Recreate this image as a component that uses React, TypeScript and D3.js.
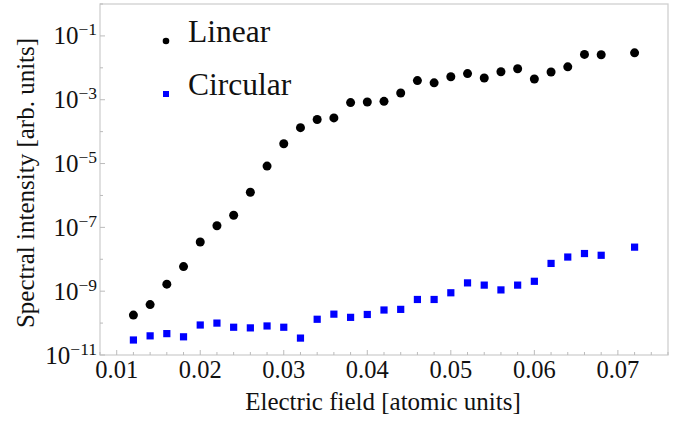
import React from "react";
import * as d3 from "d3";

const fields = [0.012, 0.014, 0.016, 0.018, 0.02, 0.022, 0.024, 0.026, 0.028, 0.03, 0.032, 0.034, 0.036, 0.038, 0.04, 0.042, 0.044, 0.046, 0.048, 0.05, 0.052, 0.054, 0.056, 0.058, 0.06, 0.062, 0.064, 0.066, 0.068, 0.072];
const linearLog = [-9.75, -9.42, -8.78, -8.23, -7.46, -6.95, -6.62, -5.9, -5.08, -4.38, -3.875, -3.62, -3.57, -3.09, -3.07, -3.05, -2.79, -2.4, -2.47, -2.28, -2.18, -2.32, -2.125, -2.03, -2.35, -2.13, -1.97, -1.58, -1.59, -1.53];
const circularLog = [-10.53, -10.4, -10.33, -10.43, -10.06, -10.0, -10.13, -10.15, -10.09, -10.13, -10.47, -9.88, -9.72, -9.82, -9.73, -9.59, -9.57, -9.26, -9.26, -9.05, -8.74, -8.81, -8.96, -8.81, -8.69, -8.13, -7.93, -7.82, -7.875, -7.62];
const xMajorTicks = [0.01, 0.02, 0.03, 0.04, 0.05, 0.06, 0.07];
const yMajorExps = [-11, -9, -7, -5, -3, -1];
const seriesNames = ["Linear", "Circular"];
const xTitle = "Electric field [atomic units]";
const yTitle = "Spectral intensity [arb. units]";

const W = 677, H = 422;
const left = 100, right = 668, top = 4, bottom = 355;
const FONT = "'Liberation Serif', 'Times New Roman', serif";

export default function App() {
  const x = d3.scaleLinear().domain([0.008, 0.076]).range([left, right]);
  const y = d3.scaleLog().domain([1e-11, 1]).range([bottom, top]);
  const xMinor = d3.range(0, 35).map((i) => 0.008 + i * 0.002).filter((v) => v <= 0.0761 && !xMajorTicks.some((m) => Math.abs(m - v) < 1e-9));
  const yMinorExps = d3.range(-10, 1, 2);
  const linear = fields.map((f, i) => ({ f, v: Math.pow(10, linearLog[i]) }));
  const circular = fields.map((f, i) => ({ f, v: Math.pow(10, circularLog[i]) }));
  const tickColor = "#bbbbbb";
  return (
    <svg width={W} height={H} style={{ position: "absolute", left: 0, top: 0, background: "#fff" }} fontFamily={FONT}>
      <rect x={left} y={top} width={right - left} height={bottom - top} fill="none" stroke="#d0d0d0" strokeWidth={1.3} />
      {xMajorTicks.map((t) => (
        <g key={"xt" + t}>
          <line x1={x(t)} x2={x(t)} y1={bottom} y2={bottom - 5} stroke={tickColor} />
          <text x={x(t)} y={378} fontSize={24.5} textAnchor="middle" fill="#111">{t.toFixed(2)}</text>
        </g>
      ))}
      {xMinor.map((t) => (
        <line key={"xm" + t} x1={x(t)} x2={x(t)} y1={bottom} y2={bottom - 3} stroke={tickColor} />
      ))}
      {yMajorExps.map((e) => (
        <g key={"yt" + e}>
          <line x1={left} x2={left + 5} y1={y(Math.pow(10, e))} y2={y(Math.pow(10, e))} stroke={tickColor} />
          <text x={97} y={y(Math.pow(10, e)) + 8.5} fontSize={25} textAnchor="end" fill="#111">
            10<tspan fontSize={17.5} dy={-9}>{"\u2212" + Math.abs(e)}</tspan>
          </text>
        </g>
      ))}
      {yMinorExps.map((e) => (
        <line key={"ym" + e} x1={left} x2={left + 3} y1={y(Math.pow(10, e))} y2={y(Math.pow(10, e))} stroke={tickColor} />
      ))}
      {linear.map((d, i) => (
        <circle key={"l" + i} cx={x(d.f)} cy={y(d.v)} r={4.5} fill="#000" />
      ))}
      {circular.map((d, i) => (
        <rect key={"c" + i} x={x(d.f) - 3.6} y={y(d.v) - 3.6} width={7.2} height={7.2} fill="#0000ff" />
      ))}
      <circle cx={166} cy={41} r={3.3} fill="#000" />
      <text x={188} y={42} fontSize={31.5} fill="#111">{seriesNames[0]}</text>
      <rect x={163} y={91} width={6} height={6} fill="#0000ff" />
      <text x={188} y={95} fontSize={31.5} fill="#111">{seriesNames[1]}</text>
      <text x={(246 + 520) / 2} y={410} fontSize={25} textAnchor="middle" fill="#111">{xTitle}</text>
      <text transform={`translate(34,183) rotate(-90)`} fontSize={25} textAnchor="middle" fill="#111">{yTitle}</text>
    </svg>
  );
}
